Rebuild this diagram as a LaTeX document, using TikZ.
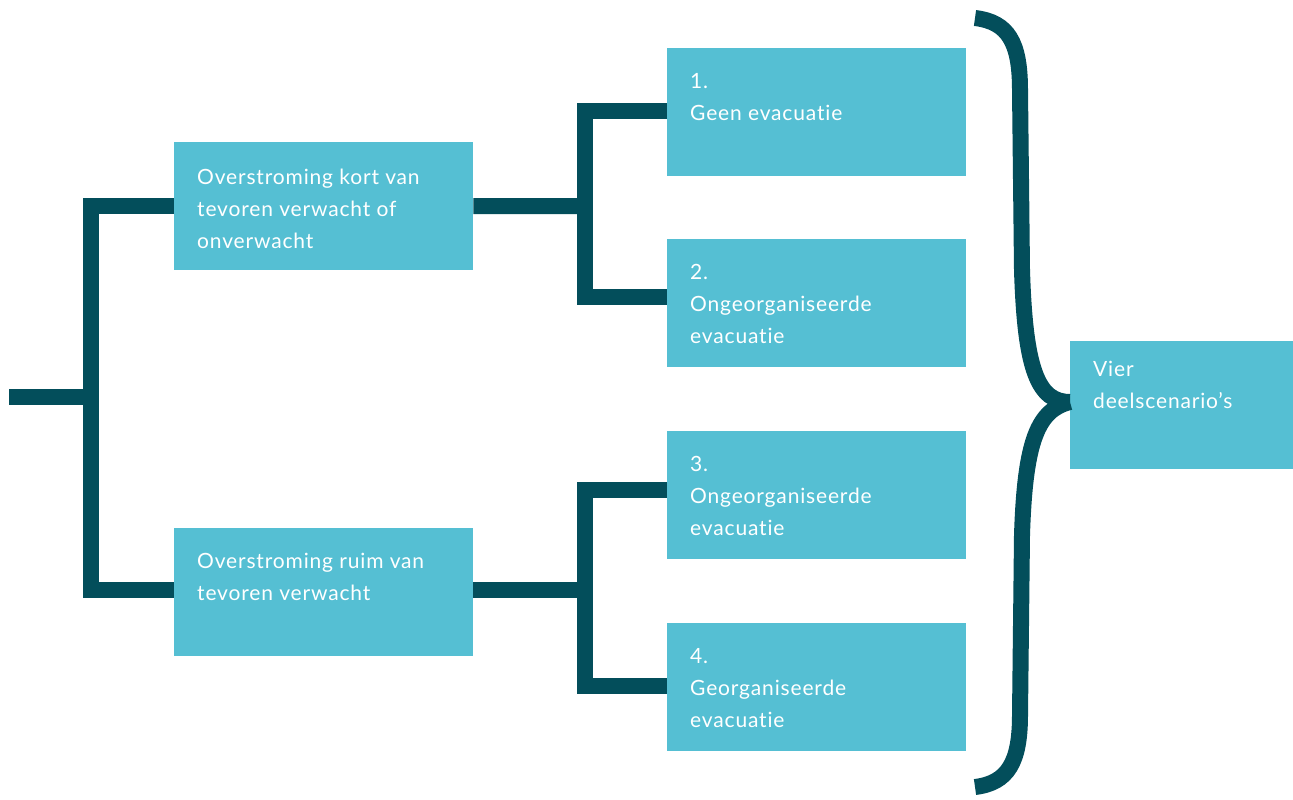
\documentclass[tikz,border=0pt]{standalone}
\usepackage{fontspec}
\setmainfont{Lato}[Ligatures={NoCommon},LetterSpace=4]
\definecolor{boxc}{HTML}{55BFD3}
\definecolor{linec}{HTML}{034E5B}
\begin{document}
\begin{tikzpicture}[x=1pt,y=-1pt,
  box/.style={fill=boxc,draw=none,minimum width=299pt,minimum height=128pt,inner sep=0pt,anchor=north west},
  vbox/.style={fill=boxc,draw=none,minimum width=223pt,minimum height=128pt,inner sep=0pt,anchor=north west},
  txt/.style={anchor=base west,inner sep=0pt,text=white,font=\fontsize{21}{32}\selectfont,align=left},
  conn/.style={draw=linec,line width=16pt,line join=miter,line cap=butt}]
\useasboundingbox (0,0) rectangle (1293,800);
% boxes
\node[box] (A) at (174,142) {};
\node[box] (B) at (174,528) {};
\node[box] (S1) at (667,48) {};
\node[box] (S2) at (667,239) {};
\node[box] (S3) at (667,431) {};
\node[box] (S4) at (667,623) {};
\node[vbox] (V) at (1070,341) {};
% texts (anchored at baseline of last line)
\node[txt] (tA) at (197,248) {Overstroming kort van\\tevoren verwacht of\\onverwacht};
\node[txt] (tB) at (197,600) {Overstroming ruim van\\tevoren verwacht};
\node[txt] (t1) at (690,120) {1.\\Geen evacuatie};
\node[txt] (t2) at (690,343) {2.\\Ongeorganiseerde\\evacuatie};
\node[txt] (t3) at (690,535) {3.\\Ongeorganiseerde\\evacuatie};
\node[txt] (t4) at (690,727) {4.\\Georganiseerde\\evacuatie};
\node[txt] (tV) at (1093,408) {Vier\\deelscenario's};
% connectors
\coordinate (start) at (9,397);
\coordinate (lx) at (91,397);
\draw[conn] (start) -- (lx);
\draw[conn] (A.west) -| (lx) |- (B.west |- 0,590);
\coordinate (ux) at (585,206);
\coordinate (dx) at (585,590);
\draw[conn] (A.east) -- (ux);
\draw[conn] (S1.west |- 0,111) -| (ux) |- (S2.west |- 0,297);
\draw[conn] (B.east |- 0,590) -- (dx);
\draw[conn] (S3.west |- 0,490) -| (dx) |- (S4.west |- 0,686);
% brace
\coordinate (tip) at (V.west |- 0,402);
\draw[linec,line width=16pt] (975,18) .. controls (1008,22) and (1020,42) .. (1020,90)
  -- (1022,270) .. controls (1025,370) and (1038,402) .. (tip);
\draw[linec,line width=16pt] (975,787) .. controls (1008,783) and (1020,762) .. (1020,715)
  -- (1022,535) .. controls (1025,440) and (1038,410) .. (tip);
\end{tikzpicture}
\end{document}
